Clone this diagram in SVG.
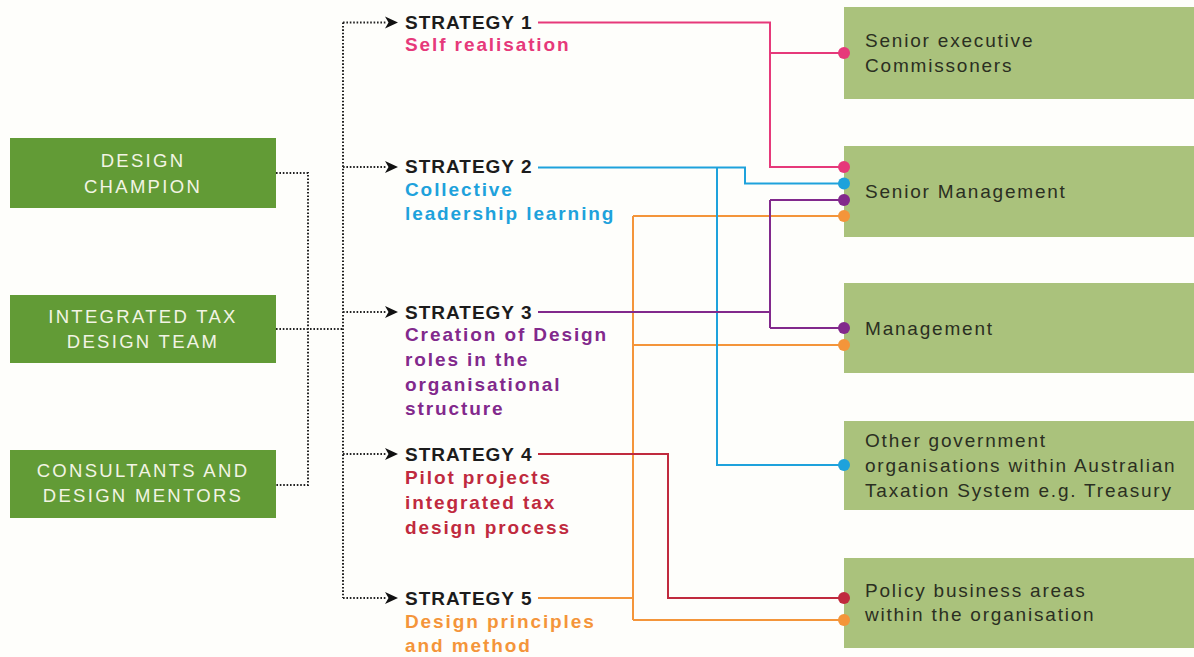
<svg xmlns="http://www.w3.org/2000/svg" width="1194" height="657" viewBox="0 0 1194 657">
<style>
.lbox{fill:#629b36}
.rbox{fill:#aac27c}
.lt{font-family:"Liberation Sans",Arial,sans-serif;font-size:18.5px;fill:#f2f4e4;letter-spacing:2.3px;text-anchor:middle}
.rt{font-family:"Liberation Sans",Arial,sans-serif;font-size:19px;fill:#2b2f22;letter-spacing:1.8px}
.st{font-family:"Liberation Sans",Arial,sans-serif;font-size:19px;font-weight:bold;fill:#1c1c1c;letter-spacing:1px}
.sub{font-family:"Liberation Sans",Arial,sans-serif;font-size:19px;font-weight:bold;letter-spacing:1.9px}
.dot{fill:none;stroke:#222;stroke-width:2;stroke-dasharray:1.6 1.8}
.ln{fill:none;stroke-width:2}
.pink{stroke:#e6397a}.blue{stroke:#1ea2dc}.purple{stroke:#82298c}.red{stroke:#c02a3e}.orange{stroke:#f4953a}
</style>
<defs>
<path id="ah" d="M-13,-6 L0,0 L-13,6 L-9.5,0 Z" fill="#111"/>
</defs>
<rect width="1194" height="657" fill="#fefefb"/>

<g id="design-champion">
<rect class="lbox" x="10" y="138" width="266" height="70"/>
<text class="lt" x="143" y="167">DESIGN</text>
<text class="lt" x="143" y="193">CHAMPION</text>
</g>
<g id="integrated-tax-design-team">
<rect class="lbox" x="10" y="295" width="266" height="68"/>
<text class="lt" x="143" y="323">INTEGRATED TAX</text>
<text class="lt" x="143" y="348">DESIGN TEAM</text>
</g>
<g id="consultants">
<rect class="lbox" x="10" y="450" width="266" height="68"/>
<text class="lt" x="143" y="477">CONSULTANTS AND</text>
<text class="lt" x="143" y="502">DESIGN MENTORS</text>
</g>

<g id="strategy1">
<text class="st" x="405" y="29">STRATEGY 1</text>
<text class="sub" x="405" y="51" fill="#e6397a">Self realisation</text>
</g>
<g id="strategy2">
<text class="st" x="405" y="173">STRATEGY 2</text>
<text class="sub" x="405" y="196" fill="#1ea2dc">Collective</text>
<text class="sub" x="405" y="220" fill="#1ea2dc">leadership learning</text>
</g>
<g id="strategy3">
<text class="st" x="405" y="319">STRATEGY 3</text>
<text class="sub" x="405" y="341" fill="#82298c">Creation of Design</text>
<text class="sub" x="405" y="366" fill="#82298c">roles in the</text>
<text class="sub" x="405" y="391" fill="#82298c">organisational</text>
<text class="sub" x="405" y="415" fill="#82298c">structure</text>
</g>
<g id="strategy4">
<text class="st" x="405" y="461">STRATEGY 4</text>
<text class="sub" x="405" y="484" fill="#c02a3e">Pilot projects</text>
<text class="sub" x="405" y="509" fill="#c02a3e">integrated tax</text>
<text class="sub" x="405" y="534" fill="#c02a3e">design process</text>
</g>
<g id="strategy5">
<text class="st" x="405" y="605">STRATEGY 5</text>
<text class="sub" x="405" y="628" fill="#f4953a">Design principles</text>
<text class="sub" x="405" y="652" fill="#f4953a">and method</text>
</g>

<g id="senior-executive">
<rect class="rbox" x="844" y="7" width="350" height="92"/>
<text class="rt" x="865" y="47">Senior executive</text>
<text class="rt" x="865" y="72">Commissoners</text>
</g>
<g id="senior-management">
<rect class="rbox" x="844" y="146" width="350" height="91"/>
<text class="rt" x="865" y="198">Senior Management</text>
</g>
<g id="management">
<rect class="rbox" x="844" y="283" width="350" height="90"/>
<text class="rt" x="865" y="335">Management</text>
</g>
<g id="other-government">
<rect class="rbox" x="844" y="421" width="350" height="89"/>
<text class="rt" x="865" y="447">Other government</text>
<text class="rt" x="865" y="472">organisations within Australian</text>
<text class="rt" x="865" y="497">Taxation System e.g. Treasury</text>
</g>
<g id="policy-business">
<rect class="rbox" x="844" y="558" width="350" height="90"/>
<text class="rt" x="865" y="597">Policy business areas</text>
<text class="rt" x="865" y="621">within the organisation</text>
</g>

<g id="connectors">
<path class="dot" d="M276,173 H308 V485 H276"/>
<path class="dot" d="M276,329 H343"/>
<path class="dot" d="M343,22.5 V598"/>
<path class="dot" d="M343,22.5 H386 M343,167 H386 M343,312 H386 M343,454 H386 M343,598 H386"/>
<use href="#ah" x="398" y="22.5"/>
<use href="#ah" x="398" y="167"/>
<use href="#ah" x="398" y="312"/>
<use href="#ah" x="398" y="454"/>
<use href="#ah" x="398" y="598"/>

<path class="ln orange" d="M538,598 H633 M633,216 V620 M633,216 H844 M633,345 H844 M633,620 H844"/>
<path class="ln red" d="M538,454 H668 V598 H844"/>
<path class="ln blue" d="M538,167.5 H745 V183.5 H844 M717,167.5 V465 H844"/>
<path class="ln purple" d="M538,312 H770 M770,200 V328 M770,200 H844 M770,328 H844"/>
<path class="ln pink" d="M538,22.5 H770 V167 H844 M770,53 H844"/>

<circle cx="844" cy="53" r="6" fill="#e6397a"/>
<circle cx="844" cy="167" r="6" fill="#e6397a"/>
<circle cx="844" cy="183.5" r="6" fill="#1ea2dc"/>
<circle cx="844" cy="200" r="6" fill="#82298c"/>
<circle cx="844" cy="216" r="6" fill="#f4953a"/>
<circle cx="844" cy="328" r="6" fill="#82298c"/>
<circle cx="844" cy="345" r="6" fill="#f4953a"/>
<circle cx="844" cy="465" r="6" fill="#1ea2dc"/>
<circle cx="844" cy="598" r="6" fill="#c02a3e"/>
<circle cx="844" cy="620" r="6" fill="#f4953a"/>
</g>
</svg>
